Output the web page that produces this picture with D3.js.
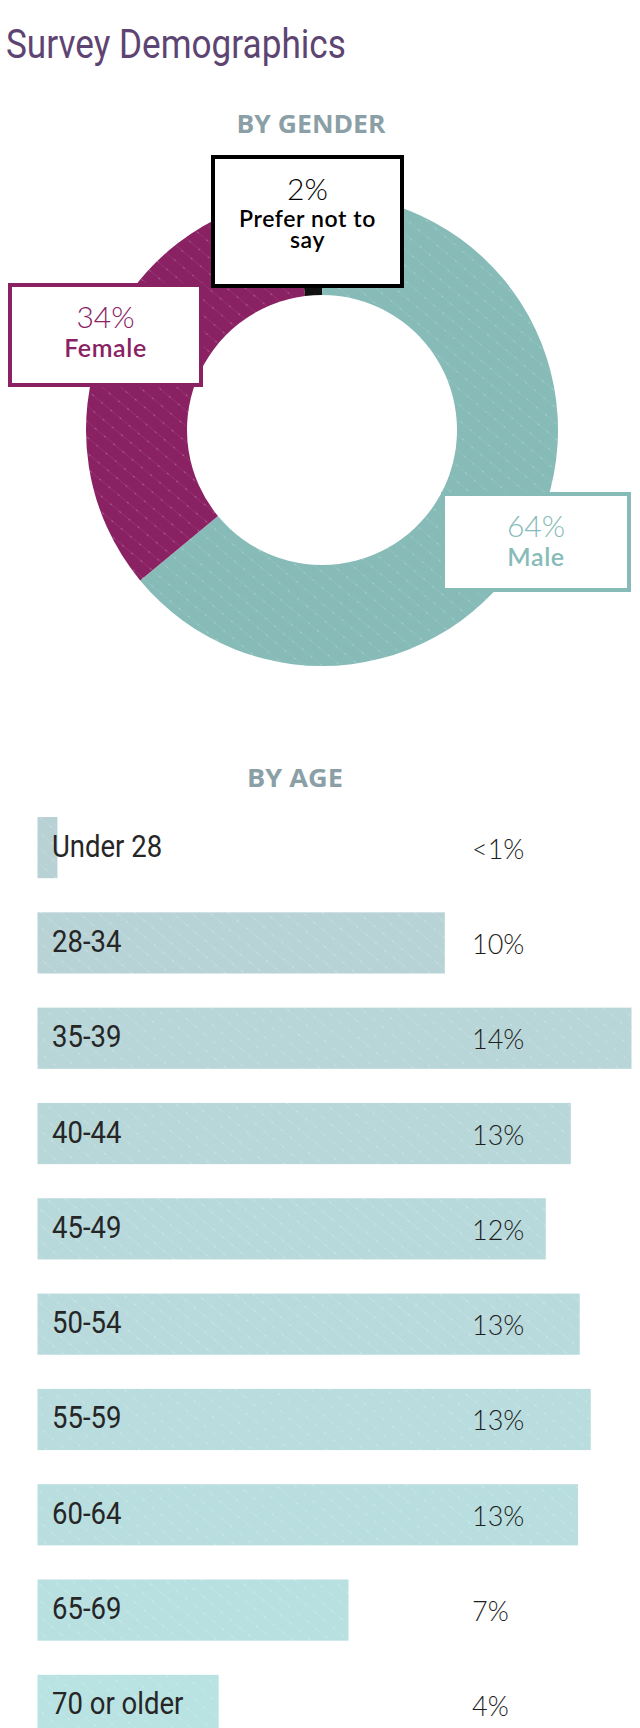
<!DOCTYPE html>
<html>
<head>
<meta charset="utf-8">
<script src="https://cdn.jsdelivr.net/npm/d3@7"></script>
<style>
  body { margin: 0; background: #fff; }
  svg { display: block; }
</style>
</head>
<body>
<svg id="chart"></svg>
<script>
// gender split (percent)
const genderLabels = ['Male', 'Female', 'Prefer not to say'];
const genderValues = [64, 34, 2];
const genderText = ['64%', '34%', '2%'];
const genderColors = ['#86bbb8', '#8a2163', '#111111'];

// age split (percent)
const ageGroups = ['Under 28', '28-34', '35-39', '40-44', '45-49', '50-54', '55-59', '60-64', '65-69', '70 or older'];
const ageValues = [0.47, 9.6, 14.0, 12.57, 11.98, 12.78, 13.04, 12.74, 7.33, 4.27];
const ageText = ['<1%', '10%', '14%', '13%', '12%', '13%', '13%', '13%', '7%', '4%'];

const width = 640;
const height = 1728;

const svg = d3.select('#chart')
    .attr('width', width)
    .attr('height', height);

// Subtle diagonal texture used on donut and bars
const defs = svg.append('defs');
function addTexture(id, base, alpha) {
    const p = defs.append('pattern')
        .attr('id', id)
        .attr('patternUnits', 'userSpaceOnUse')
        .attr('width', 12)
        .attr('height', 12)
        .attr('patternTransform', 'rotate(40)');
    p.append('rect').attr('width', 12).attr('height', 12).attr('fill', base);
    p.append('line')
        .attr('x1', 0).attr('y1', 0).attr('x2', 12).attr('y2', 0)
        .attr('stroke', `rgba(255,255,255,${alpha})`)
        .attr('stroke-width', 1);
    p.append('circle')
        .attr('cx', 6).attr('cy', 0.5).attr('r', 0.8)
        .attr('fill', `rgba(255,255,255,${alpha * 2.5})`);
}

// Title
const title = svg.append('text')
    .attr('font-family', 'Roboto, sans-serif')
    .attr('font-size', 40)
    .attr('fill', '#5d4472')
    .text('Survey Demographics');
const titleLen = title.node().getComputedTextLength();
title.attr('transform', `translate(6,58) scale(${340 / titleLen},1)`);

// Section headings
function heading(text, x, y, w) {
    svg.append('text')
        .attr('x', x - w / 2)
        .attr('y', y)
        .attr('font-family', '"Open Sans", sans-serif')
        .attr('font-weight', 700)
        .attr('font-size', 25)
        .attr('fill', '#8b9fa7')
        .attr('textLength', w)
        .attr('lengthAdjust', 'spacingAndGlyphs')
        .text(text);
}
heading('BY GENDER', 311, 133, 149);
heading('BY AGE', 295, 787, 96);

// Donut
const cx = 322, cy = 430;
const outerR = 236, innerR = 135;

genderColors.forEach((c, i) => addTexture('tex-g' + i, c, i === 2 ? 0 : 0.12));

const pie = d3.pie().sort(null).value(d => d);
const arc = d3.arc().innerRadius(innerR).outerRadius(outerR);

svg.append('g')
    .attr('transform', `translate(${cx},${cy})`)
    .selectAll('path')
    .data(pie(genderValues))
    .join('path')
    .attr('d', arc)
    .attr('fill', (d, i) => `url(#tex-g${i})`);

// Callout boxes
const genderBoxes = [
    { x: 443, y: 494, w: 186, h: 96, lines: [genderLabels[0]], size: 25, lead: 28.5, gap: 21 },
    { x: 10, y: 285, w: 191, h: 100, lines: [genderLabels[1]], size: 25, lead: 28.5, gap: 21 },
    { x: 213, y: 157, w: 189, h: 129, lines: ['Prefer not to', 'say'], size: 23, lead: 26.5, gap: 21 }
];
const genderTextColors = ['#86bbb8', '#8a2163', '#000000'];

genderBoxes.forEach((b, i) => {
    const g = svg.append('g');
    g.append('rect')
        .attr('x', b.x).attr('y', b.y)
        .attr('width', b.w).attr('height', b.h)
        .attr('fill', '#fff')
        .attr('stroke', i === 2 ? '#000' : genderColors[i])
        .attr('stroke-width', 4);
    const mid = b.x + b.w / 2;
    const firstBase = b.y + 43;
    g.append('text')
        .attr('x', mid).attr('y', firstBase)
        .attr('text-anchor', 'middle')
        .attr('font-family', 'Lato, sans-serif')
        .attr('font-weight', 300)
        .attr('font-size', 30)
        .attr('fill', genderTextColors[i])
        .text(genderText[i]);
    // wrapped label kept as one text element
    const label = g.append('text')
        .attr('text-anchor', 'middle')
        .attr('font-family', 'Lato, sans-serif')
        .attr('font-weight', 600)
        .attr('font-size', b.size)
        .attr('letter-spacing', 0.6)
        .attr('fill', genderTextColors[i]);
    b.lines.forEach((line, j) => {
        label.append('tspan')
            .attr('x', mid)
            .attr('y', firstBase + b.lead + j * b.gap)
            .text(line);
    });
});

// Bars by age
const barLeft = 37.5;
const barTop = 817;
const rowStep = 91.9;
const barH = 59;

const x = d3.scaleLinear().domain([0, 14]).range([0, 594]);
const y = d3.scaleBand()
    .domain(ageGroups)
    .range([barTop, barTop + rowStep * ageGroups.length])
    .paddingInner(1 - barH / rowStep)
    .paddingOuter(0)
    .align(0);

const barColor = d3.interpolateRgb('#b8d1d5', '#b9e2e2');
ageGroups.forEach((a, i) => addTexture('tex-a' + i, barColor(i / (ageGroups.length - 1)), 0.14));

const rows = svg.append('g')
    .selectAll('g')
    .data(ageGroups)
    .join('g');

rows.append('rect')
    .attr('x', barLeft)
    .attr('y', d => y(d))
    .attr('width', (d, i) => x(ageValues[i]))
    .attr('height', y.bandwidth())
    .attr('fill', (d, i) => `url(#tex-a${i})`);

rows.append('text')
    .attr('font-family', 'Roboto, sans-serif')
    .attr('font-size', 32)
    .attr('fill', '#262626')
    .attr('transform', d => `translate(52,${y(d) + y.bandwidth() / 2 + 9}) scale(0.86,1)`)
    .text(d => d);

rows.append('text')
    .attr('x', 472)
    .attr('y', d => y(d) + y.bandwidth() / 2 + 11)
    .attr('font-family', 'Lato, sans-serif')
    .attr('font-weight', 300)
    .attr('font-size', 27)
    .attr('fill', '#1e1e1e')
    .text((d, i) => ageText[i]);
</script>
</body>
</html>
